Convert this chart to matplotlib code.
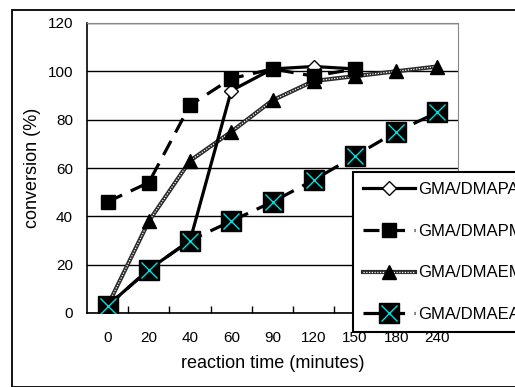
import matplotlib
matplotlib.use("Agg")
import matplotlib.pyplot as plt
from matplotlib.patches import Rectangle

plt.rcParams['font.family'] = ['Liberation Sans Narrow', 'Liberation Sans', 'DejaVu Sans']

times = ["0", "20", "40", "60", "90", "120", "150", "180", "240"]
dmapaa = [3, 18, 30, 92, 101, 102, 101]
dmapma = [46, 54, 86, 97, 101, 98, 101]
dmaema = [3, 38, 63, 75, 88, 96, 98, 100, 102]
dmaea = [3, 18, 30, 38, 46, 55, 65, 75, 83]
labels = ["GMA/DMAPAA", "GMA/DMAPMA", "GMA/DMAEMA", "GMA/DMAEA"]

fig = plt.figure(figsize=(5.15, 3.87), dpi=100)
ax = fig.add_axes([87/515, 74/387, 371/515, 290/387])

# outer chart border
fig.patches.append(Rectangle((12/515, 0), 1, 1 - 10/387, transform=fig.transFigure,
                             fill=False, edgecolor="black", linewidth=1.3))

x = list(range(len(times)))

l1, = ax.plot(x[:len(dmapaa)], dmapaa, color="black", lw=2.3, marker="D",
              markersize=7, markerfacecolor="white", markeredgecolor="black", zorder=3)
l2, = ax.plot(x[:len(dmapma)], dmapma, color="black", lw=2.3, dashes=(5, 3),
              marker="s", markersize=10, markerfacecolor="black", zorder=4)
l3a, = ax.plot(x, dmaema, color="#2a2a2a", lw=3, zorder=2)
l3b, = ax.plot(x, dmaema, color="white", lw=0.9, dashes=(1, 1.2), marker="^",
               markersize=10, markerfacecolor="black", markeredgecolor="black", zorder=2)
l4a, = ax.plot(x, dmaea, color="black", lw=2.3, dashes=(5, 3),
               marker="s", markersize=15, markerfacecolor="black", zorder=5)
l4b, = ax.plot(x, dmaea, ls="none", marker="x", markersize=12,
               markeredgecolor="#00e0e0", markeredgewidth=1.0, zorder=6)

ax.set_xlim(-0.5, len(times) - 0.5)
ax.set_ylim(0, 120)
ax.set_yticks(range(0, 121, 20))
ax.set_xticks(x)
ax.set_xticklabels(times)
ax.set_xticks([i + 0.5 for i in x[:-1]], minor=True)
ax.tick_params(axis="x", which="major", length=0, labelsize=11, pad=13)
ax.tick_params(axis="x", which="minor", direction="in", length=5, width=1)
ax.tick_params(axis="y", length=0, labelsize=11, pad=10)
ax.grid(axis="y", color="black", lw=1)
ax.set_axisbelow(True)
for s in ["top", "right"]:
    ax.spines[s].set_color("#888888")
for s in ["left", "bottom"]:
    ax.spines[s].set_linewidth(1.2)

ax.set_xlabel("reaction time (minutes)", fontsize=13, labelpad=7)
ax.set_ylabel("conversion (%)", fontsize=13, labelpad=5)

leg = fig.legend([l1, l2, (l3a, l3b), (l4a, l4b)], labels,
                 loc="upper left", bbox_to_anchor=(353/515, 1 - 172/387),
                 borderaxespad=0, fancybox=False, framealpha=1,
                 edgecolor="black", fontsize=12, handlelength=3.1,
                 labelspacing=1.6, borderpad=0.6, handletextpad=0.2)
leg.get_frame().set_linewidth(1.5)

fig.savefig("out.png", dpi=100)
